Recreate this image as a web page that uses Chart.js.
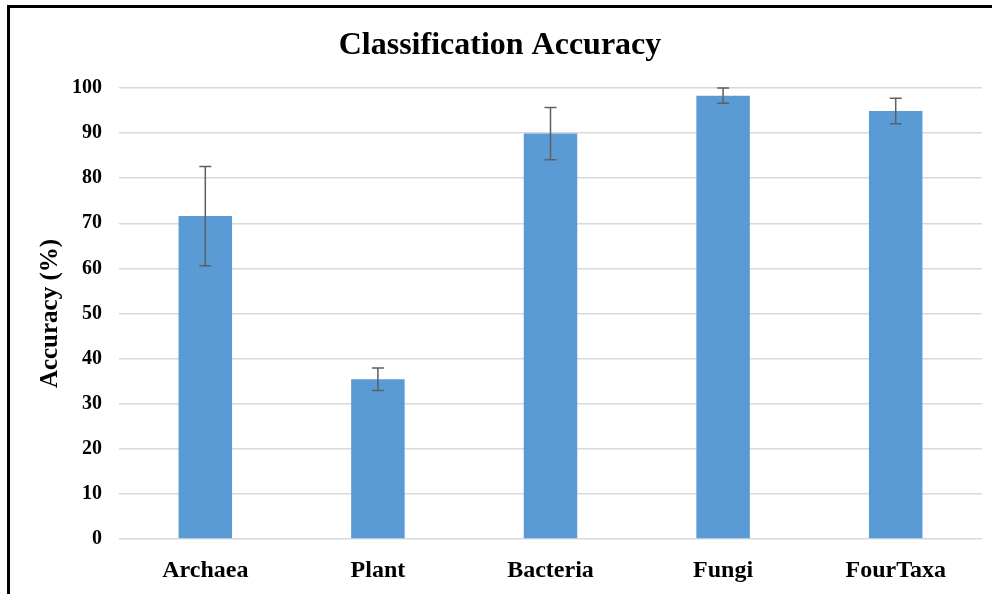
<!DOCTYPE html>
<html>
<head>
<meta charset="utf-8">
<script src="https://cdn.jsdelivr.net/npm/chart.js@4.4.0/dist/chart.umd.min.js"></script>
<style>
    html, body { margin: 0; padding: 0; background: #fff; }
    #wrap { position: absolute; left: 0; top: 0; width: 992px; height: 594px; }
    #frame {
        position: absolute; left: 7px; top: 5px; width: 1000px; height: 600px;
        border-left: 3px solid #000; border-top: 3px solid #000;
        pointer-events: none;
    }
</style>
</head>
<body>
<div id="wrap"><canvas id="accChart"></canvas></div>
<div id="frame"></div>
<script>
    const categories = ['Archaea', 'Plant', 'Bacteria', 'Fungi', 'FourTaxa'];
    const accuracy = [71.6, 35.4, 89.9, 98.3, 94.9];
    const accuracyErr = [11.0, 2.5, 5.8, 1.7, 2.8];
    const yTicks = [0, 10, 20, 30, 40, 50, 60, 70, 80, 90, 100];

    const serif = "'Liberation Serif', 'Times New Roman', serif";

    // draws the +/- error whiskers on top of each bar
    const errorBars = {
        id: 'errorBars',
        afterDatasetsDraw(chart) {
            const ctx = chart.ctx;
            const y = chart.scales.y;
            const meta = chart.getDatasetMeta(0);
            ctx.save();
            ctx.strokeStyle = '#5f5f5f';
            ctx.lineWidth = 1.5;
            meta.data.forEach((bar, i) => {
                const top = y.getPixelForValue(accuracy[i] + accuracyErr[i]);
                const bot = y.getPixelForValue(accuracy[i] - accuracyErr[i]);
                ctx.beginPath();
                ctx.moveTo(bar.x, top);
                ctx.lineTo(bar.x, bot);
                ctx.moveTo(bar.x - 6, top);
                ctx.lineTo(bar.x + 6, top);
                ctx.moveTo(bar.x - 6, bot);
                ctx.lineTo(bar.x + 6, bot);
                ctx.stroke();
            });
            ctx.restore();
        }
    };

    new Chart(document.getElementById('accChart'), {
        type: 'bar',
        data: {
            labels: categories,
            datasets: [{
                data: accuracy,
                backgroundColor: '#5b9bd5',
                borderWidth: 0,
                barPercentage: 0.31,
                categoryPercentage: 1
            }]
        },
        options: {
            responsive: true,
            maintainAspectRatio: false,
            animation: false,
            layout: { padding: { left: 18, right: 10, top: 0, bottom: 0 } },
            plugins: {
                legend: { display: false },
                tooltip: { enabled: false },
                title: {
                    display: true,
                    text: 'Classification Accuracy',
                    color: '#000',
                    font: { family: serif, size: 32, weight: 'bold' },
                    padding: { top: 27, bottom: 22.6 }
                }
            },
            scales: {
                x: {
                    grid: { display: false },
                    border: { display: false },
                    ticks: {
                        color: '#000',
                        padding: 9,
                        font: { family: serif, size: 24, weight: 'bold' }
                    },
                    afterFit: (s) => { s.height = 55; }
                },
                y: {
                    min: 0,
                    max: 100,
                    afterBuildTicks: (s) => { s.ticks = yTicks.map(v => ({ value: v })); },
                    grid: { color: '#d9d9d9', lineWidth: 1.5, drawTicks: false },
                    border: { display: false },
                    ticks: {
                        color: '#000',
                        padding: 17,
                        font: { family: serif, size: 20, weight: 'bold' }
                    },
                    title: {
                        display: true,
                        text: 'Accuracy (%)',
                        color: '#000',
                        padding: { top: 18, bottom: 0 },
                        font: { family: serif, size: 25, weight: 'bold' }
                    },
                    afterFit: (s) => { s.width = 101; }
                }
            }
        },
        plugins: [errorBars]
    });
</script>
</body>
</html>
